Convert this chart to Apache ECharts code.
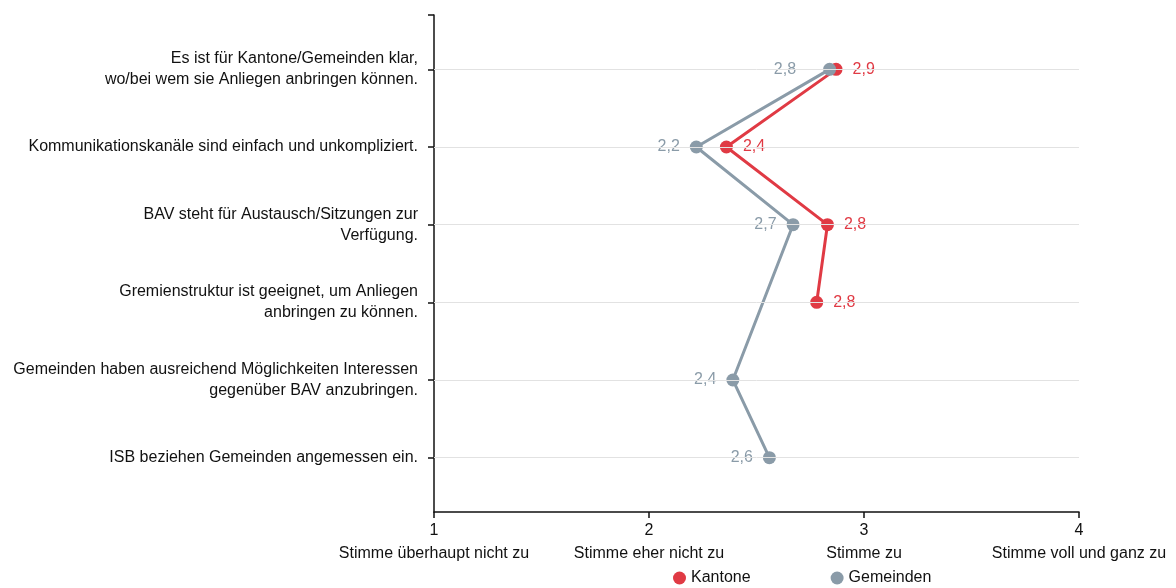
<!DOCTYPE html>
<html>
<head>
<meta charset="utf-8">
<script src="https://cdn.jsdelivr.net/npm/echarts@6/dist/echarts.min.js"></script>
<style>
  html, body { margin: 0; padding: 0; background: #fff; }
  #chart { width: 1176px; height: 588px; }
</style>
</head>
<body>
<div id="chart"></div>
<script>
const statements = [
  'Es ist für Kantone/Gemeinden klar,\nwo/bei wem sie Anliegen anbringen können.',
  'Kommunikationskanäle sind einfach und unkompliziert.',
  'BAV steht für Austausch/Sitzungen zur\nVerfügung.',
  'Gremienstruktur ist geeignet, um Anliegen\nanbringen zu können.',
  'Gemeinden haben ausreichend Möglichkeiten Interessen\ngegenüber BAV anzubringen.',
  'ISB beziehen Gemeinden angemessen ein.'
]
const scaleLabels = ['Stimme überhaupt nicht zu', 'Stimme eher nicht zu', 'Stimme zu', 'Stimme voll und ganz zu']
const kantone = [2.87, 2.36, 2.83, 2.78, null, null]
const gemeinden = [2.84, 2.22, 2.67, null, 2.39, 2.56]

const red = '#e03a44'
const grey = '#8a9ba8'
const font = 'Liberation Sans, Arial, sans-serif'

const toPoints = (arr) => arr.map((v, i) => [v === null ? '-' : v, i + 1])
const fmt = (p) => p.value[0].toFixed(1).replace('.', ',')

// grey label on the first row sits further left, clear of the red dot
const gemeindenPoints = toPoints(gemeinden).map((p, i) =>
  i === 0 ? { value: p, label: { distance: 27 } } : p
)

const chart = echarts.init(document.getElementById('chart'))
const option = {
  animation: false,
  textStyle: { fontFamily: font },
  grid: { left: 434, right: 97, top: 15, bottom: 76 },
  legend: {
    left: 668,
    top: 565,
    itemGap: 80,
    icon: 'circle',
    itemWidth: 13,
    itemHeight: 13,
    textStyle: { fontSize: 16, color: '#111', fontFamily: font },
    data: ['Kantone', 'Gemeinden']
  },
  xAxis: {
    type: 'value',
    min: 1,
    max: 4,
    interval: 1,
    axisLine: { lineStyle: { color: '#111', width: 1.5 } },
    axisTick: { show: true, length: 6, lineStyle: { color: '#111', width: 1.5 } },
    splitLine: { show: false },
    axisLabel: {
      color: '#111',
      fontSize: 16,
      lineHeight: 23,
      margin: 7,
      formatter: (v) => v + '\n' + scaleLabels[v - 1]
    }
  },
  yAxis: {
    type: 'value',
    inverse: true,
    min: 0.3,
    max: 6.7,
    axisLine: { show: true, lineStyle: { color: '#111', width: 1.5 } },
    axisTick: {
      show: true,
      length: 6,
      customValues: [0.3, 1, 2, 3, 4, 5, 6],
      lineStyle: { color: '#111', width: 1.5 }
    },
    splitLine: { show: false },
    axisLabel: {
      color: '#111',
      fontSize: 16,
      lineHeight: 21,
      margin: 16,
      align: 'right',
      customValues: [1, 2, 3, 4, 5, 6],
      formatter: (v) => statements[Math.round(v) - 1]
    }
  },
  series: [
    {
      name: 'Kantone',
      type: 'line',
      data: toPoints(kantone),
      connectNulls: true,
      symbol: 'circle',
      symbolSize: 13,
      itemStyle: { color: red },
      lineStyle: { color: red, width: 3 },
      label: { show: true, position: 'right', distance: 10, color: red, fontSize: 16, formatter: fmt },
      markLine: {
        silent: true,
        symbol: 'none',
        label: { show: false },
        lineStyle: { color: '#e2e2e2', width: 1, type: 'solid' },
        data: statements.map((s, i) => ({ yAxis: i + 1 }))
      },
      z: 2
    },
    {
      name: 'Gemeinden',
      type: 'line',
      data: gemeindenPoints,
      connectNulls: true,
      symbol: 'circle',
      symbolSize: 13,
      itemStyle: { color: grey },
      lineStyle: { color: grey, width: 3 },
      label: { show: true, position: 'left', distance: 10, color: grey, fontSize: 16, formatter: fmt },
      z: 3
    }
  ]
}
chart.setOption(option)
</script>
</body>
</html>
